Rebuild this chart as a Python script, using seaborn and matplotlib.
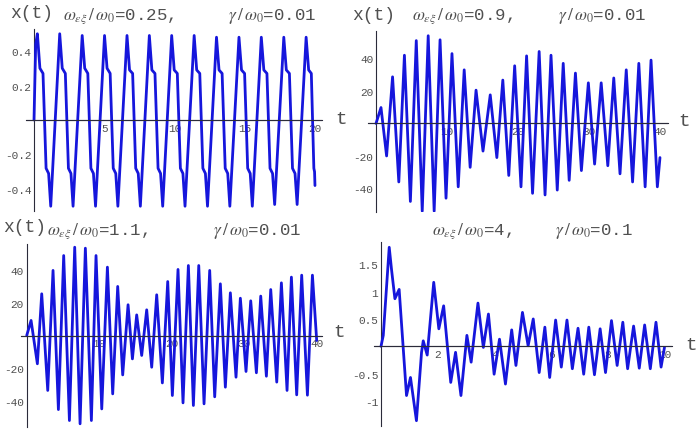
import matplotlib
matplotlib.use("Agg")
import matplotlib.pyplot as plt
import seaborn as sns
from matplotlib.ticker import MultipleLocator

# ================================
# Data (extrema + shoulders)
# ================================
# panel 1: w/w0 = 0.25, gamma/w0 = 0.01
t1 = [0.00, 0.12, 0.24, 0.42, 0.64, 0.86, 1.04, 1.19,
      1.83, 2.01, 2.23, 2.45, 2.63, 2.78,
      3.43, 3.61, 3.83, 4.05, 4.23, 4.38,
      5.02, 5.20, 5.42, 5.64, 5.82, 5.97,
      6.62, 6.80, 7.02, 7.24, 7.42, 7.57,
      8.21, 8.39, 8.61, 8.83, 9.01, 9.16,
      9.80, 9.98, 10.20, 10.42, 10.60, 10.75,
      11.40, 11.58, 11.80, 12.02, 12.20, 12.35,
      12.99, 13.17, 13.39, 13.61, 13.79, 13.94,
      14.59, 14.77, 14.99, 15.21, 15.39, 15.54,
      16.18, 16.36, 16.58, 16.80, 16.98, 17.13,
      17.78, 17.96, 18.18, 18.40, 18.58, 18.73,
      19.37, 19.55, 19.74, 19.92, 19.97, 20.00]
x1 = [0.00, 0.44, 0.50, 0.30, 0.27, -0.28, -0.31, -0.50,
      0.50, 0.30, 0.27, -0.28, -0.31, -0.50,
      0.49, 0.30, 0.27, -0.28, -0.31, -0.50,
      0.49, 0.30, 0.27, -0.28, -0.31, -0.50,
      0.49, 0.29, 0.27, -0.28, -0.31, -0.50,
      0.49, 0.29, 0.27, -0.28, -0.31, -0.50,
      0.49, 0.29, 0.27, -0.28, -0.31, -0.50,
      0.49, 0.29, 0.27, -0.28, -0.31, -0.50,
      0.48, 0.29, 0.27, -0.28, -0.31, -0.50,
      0.48, 0.29, 0.27, -0.28, -0.31, -0.50,
      0.48, 0.29, 0.27, -0.28, -0.31, -0.49,
      0.48, 0.29, 0.27, -0.28, -0.31, -0.49,
      0.48, 0.29, 0.27, -0.28, -0.30, -0.38]

# panel 2: w/w0 = 0.9, gamma/w0 = 0.01
t2 = [0.00, 0.70, 1.49, 2.33, 3.21, 4.00, 4.84, 5.67, 6.51, 7.35,
      8.19, 9.02, 9.86, 10.70, 11.58, 12.42, 13.26, 14.09, 15.07, 16.09,
      17.02, 17.86, 18.70, 19.53, 20.42, 21.21, 22.05, 22.98, 23.81, 24.65,
      25.53, 26.37, 27.21, 28.09, 28.93, 29.91, 30.79, 31.72, 32.65, 33.49,
      34.37, 35.25, 36.14, 37.02, 37.91, 38.74, 39.63, 40.00]
x2 = [0.0, 9.8, -20.0, 28.7, -36.0, 42.0, -48.0, 51.0, -54.0, 54.0,
      -54.0, 51.5, -46.0, 43.0, -39.0, 33.0, -27.0, 20.5, -17.0, 17.6,
      -21.0, 26.7, -32.0, 35.5, -39.0, 41.6, -43.0, 44.3, -44.0, 42.0,
      -41.0, 37.0, -35.0, 31.0, -29.0, 25.0, -25.0, 25.0, -26.0, 28.0,
      -31.0, 33.0, -36.0, 37.0, -39.0, 39.0, -39.0, -21.0]

# panel 3: w/w0 = 1.1, gamma/w0 = 0.01
t3 = [0.00, 0.60, 1.47, 2.07, 2.90, 3.63, 4.37, 5.10, 5.89, 6.62,
      7.36, 8.09, 8.92, 9.56, 10.35, 11.13, 11.86, 12.55, 13.24, 13.98,
      14.58, 15.17, 15.86, 16.55, 17.24, 17.93, 18.71, 19.45, 20.09, 20.87,
      21.56, 22.30, 22.99, 23.73, 24.46, 25.24, 25.93, 26.71, 27.40, 28.09,
      28.87, 29.47, 30.25, 30.90, 31.68, 32.28, 33.06, 33.66, 34.49, 35.13,
      35.91, 36.51, 37.24, 37.93, 38.72, 39.41, 40.00]
x3 = [0.0, 9.2, -17.3, 25.5, -33.6, 39.8, -45.3, 48.9, -52.0, 54.0,
      -54.0, 53.4, -52.0, 48.9, -44.9, 41.8, -35.7, 30.0, -24.1, 18.8,
      -14.3, 12.6, -12.2, 15.7, -19.4, 24.9, -29.0, 33.0, -36.7, 40.4,
      -41.2, 42.8, -42.8, 42.8, -41.8, 39.8, -37.5, 31.6, -31.6, 26.1,
      -25.5, 22.8, -22.0, 21.2, -22.8, 24.1, -24.9, 28.1, -28.5, 32.2,
      -33.6, 35.7, -36.3, 36.9, -36.5, 36.9, -3.1]

# panel 4: w/w0 = 4, gamma/w0 = 0.1
t4 = [0.00, 0.08, 0.29, 0.37, 0.49, 0.64, 0.90, 1.04, 1.25, 1.43,
      1.49, 1.63, 1.86, 2.04, 2.21, 2.46, 2.63, 2.82, 3.03, 3.18,
      3.42, 3.61, 3.79, 3.99, 4.18, 4.39, 4.61, 4.76, 4.99, 5.19,
      5.37, 5.58, 5.78, 5.95, 6.16, 6.36, 6.56, 6.75, 6.95, 7.15,
      7.33, 7.53, 7.73, 7.92, 8.13, 8.33, 8.53, 8.70, 8.91, 9.11,
      9.30, 9.50, 9.70, 9.88, 10.00]
x4 = [0.00, 0.20, 1.81, 1.41, 0.87, 1.04, -0.90, -0.57, -1.36, -0.11,
      0.10, -0.16, 1.17, 0.32, 0.74, -0.66, -0.11, -0.90, 0.20, -0.29,
      0.79, -0.02, 0.59, -0.51, 0.13, -0.69, 0.30, -0.35, 0.62, 0.01,
      0.50, -0.48, 0.35, -0.57, 0.48, -0.38, 0.48, -0.41, 0.33, -0.51,
      0.35, -0.52, 0.32, -0.48, 0.47, -0.35, 0.44, -0.41, 0.37, -0.40,
      0.39, -0.41, 0.44, -0.38, -0.02]

# ================================
# Plot
# ================================
sns.set_style("white")
plt.rcParams['font.family'] = ['Liberation Mono', 'DejaVu Sans']
plt.rcParams['mathtext.fontset'] = 'stix'

W, H = 700, 435
BLUE = '#1616dc'
AXC = '#2b2b3a'
TXT = '#505050'

fig = plt.figure(figsize=(7, 4.35), dpi=100)


def panel(box, t, x, xlim, ylim, xt, xminor, yt, yminor):
    l, r, top, b = box
    ax = fig.add_axes([l / W, 1 - b / H, (r - l) / W, (b - top) / H])
    ax.patch.set_alpha(0)
    sns.lineplot(x=t, y=x, ax=ax, sort=False, estimator=None,
                 color=BLUE, lw=2.0, zorder=3)
    ax.set_xlim(xlim)
    ax.set_ylim(ylim)
    for s in ['top', 'right']:
        ax.spines[s].set_visible(False)
    ax.spines['left'].set_position(('data', 0))
    ax.spines['bottom'].set_position(('data', 0))
    for s in ['left', 'bottom']:
        ax.spines[s].set_color(AXC)
        ax.spines[s].set_linewidth(0.8)
    ax.set_xticks(xt)
    ax.set_xticklabels([f"{v:g}" for v in xt])
    ax.set_yticks(yt)
    ax.set_yticklabels([f"{v:g}" for v in yt])
    ax.xaxis.set_minor_locator(MultipleLocator(xminor))
    ax.yaxis.set_minor_locator(MultipleLocator(yminor))
    ax.tick_params(which='major', direction='in', length=3, width=0.6,
                   color=AXC, labelsize=8, labelcolor=TXT, pad=2)
    ax.tick_params(which='minor', direction='in', length=1.5, width=0.5, color=AXC)
    ax.set_axisbelow(True)
    ax.axhline(0, color=AXC, lw=0.8, zorder=4)
    ax.set_xlabel('')
    ax.set_ylabel('')
    return ax


panel((26, 322, 29.6, 212.4), t1, x1, (-0.57, 20.5), (-0.53, 0.53),
      [5, 10, 15, 20], 1, [-0.4, -0.2, 0.2, 0.4], 0.05)
panel((368, 668, 31.7, 213), t2, x2, (-1.13, 41.13), (-54.5, 57.1),
      [10, 20, 30, 40], 2, [-40, -20, 20, 40], 5)
panel((20.7, 321.7, 245, 428), t3, x3, (-0.83, 40.69), (-55.96, 55.96),
      [10, 20, 30, 40], 2, [-40, -20, 20, 40], 5)
panel((374, 672, 243, 427), t4, x4, (-0.247, 10.265), (-1.457, 1.907),
      [2, 4, 6, 8, 10], 0.5, [-1, -0.5, 0.5, 1, 1.5], 0.1)


def label(px, py, s, size):
    fig.text(px / W, 1 - py / H, s, ha='left', va='center',
             fontsize=size, color=TXT)


# x(t) labels
label(10, 14, "x(t)", 13)
label(352, 15, "x(t)", 13)
label(3, 228, "x(t)", 13)

# parameter titles
label(63, 16, r"$\omega_{\epsilon\xi}\,/\,\omega_0$=0.25,", 12.5)
label(228, 16, r"$\gamma\,/\,\omega_0$=0.01", 12.5)
label(412, 16, r"$\omega_{\epsilon\xi}\,/\,\omega_0$=0.9,", 12.5)
label(558, 16, r"$\gamma\,/\,\omega_0$=0.01", 12.5)
label(47, 231, r"$\omega_{\epsilon\xi}\,/\,\omega_0$=1.1,", 12.5)
label(213, 231, r"$\gamma\,/\,\omega_0$=0.01", 12.5)
label(432, 231, r"$\omega_{\epsilon\xi}\,/\,\omega_0$=4,", 12.5)
label(555, 231, r"$\gamma\,/\,\omega_0$=0.1", 12.5)

# axis name "t"
label(335, 120, "t", 14)
label(678, 122, "t", 14)
label(333, 333, "t", 14)
label(685, 346, "t", 14)

fig.savefig("out.png", dpi=100)
